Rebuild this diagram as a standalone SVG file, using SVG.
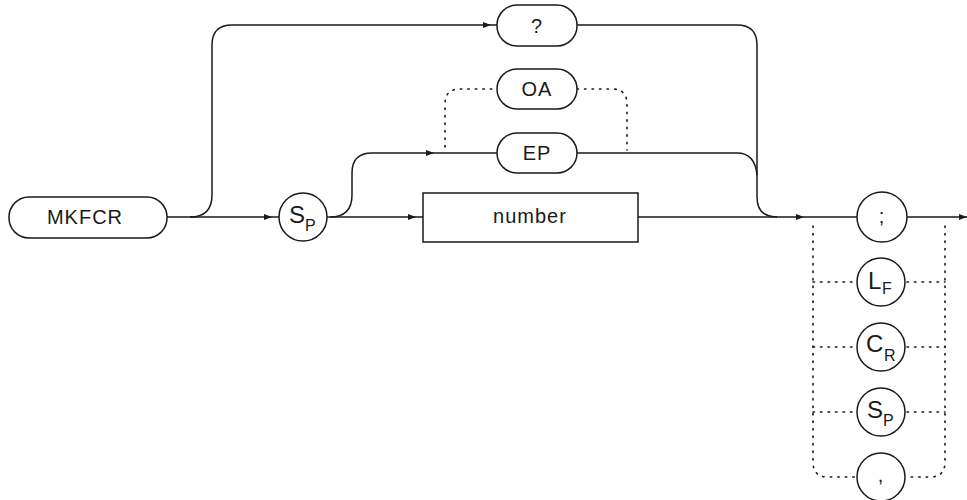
<svg xmlns="http://www.w3.org/2000/svg" width="967" height="500" viewBox="0 0 967 500">
<defs>
<style>
.ln{fill:none;stroke:#1a1a1a;stroke-width:1.5}
.dt{fill:none;stroke:#1a1a1a;stroke-width:1.6;stroke-dasharray:1.5 6;stroke-linecap:round}
.bx{fill:#fff;stroke:#1a1a1a;stroke-width:1.5}
.tx{font-family:"Liberation Sans",Arial,sans-serif;font-size:20px;fill:#1a1a1a;text-anchor:middle;letter-spacing:1px}
.big{font-family:"Liberation Sans",Arial,sans-serif;font-size:24px;fill:#1a1a1a}
.sub{font-family:"Liberation Sans",Arial,sans-serif;font-size:16px;fill:#1a1a1a}
.ar{fill:#1a1a1a}
</style>
<path id="arr" d="M0,0 L-8,-3 L-8,3 Z"/>
</defs>

<g id="connectors">
<path class="ln" d="M167,217 H280"/>
<path class="ln" d="M327,217 H423"/>
<path class="ln" d="M638,217 H857"/>
<path class="ln" d="M907,217 H967"/>
<path class="ln" d="M190,217 Q212,217 212,195 V45 Q212,25 232,25 H497"/>
<path class="ln" d="M577,25 H737 Q757,25 757,45 V197 Q757,217 777,217"/>
<path class="ln" d="M330,217 Q352,217 352,195 V173 Q352,153 372,153 H497"/>
<path class="ln" d="M577,153 H737 Q755,153 757,175"/>
<path class="dt" d="M445,147 V104 Q445,89 460,89 H497"/>
<path class="dt" d="M577,89 H612 Q627,89 627,104 V150"/>
<path class="dt" d="M813,226 V462 Q813,477 828,477 H857"/>
<path class="dt" d="M945,226 V462 Q945,477 930,477 H907"/>
<path class="dt" d="M813,282 H857 M907,282 H945"/>
<path class="dt" d="M813,347 H857 M907,347 H945"/>
<path class="dt" d="M813,412 H857 M907,412 H945"/>
<use href="#arr" class="ar" x="272" y="217"/>
<use href="#arr" class="ar" x="416" y="217"/>
<use href="#arr" class="ar" x="434" y="153"/>
<use href="#arr" class="ar" x="491" y="25"/>
<use href="#arr" class="ar" x="804" y="217"/>
<use href="#arr" class="ar" x="967" y="217"/>
</g>

<g id="mkfcr">
<rect class="bx" x="9" y="197" width="158" height="41" rx="20" ry="20"/>
<text class="tx" x="85" y="224">MKFCR</text>
</g>

<g id="sp1">
<circle class="bx" cx="303" cy="217" r="24"/>
<text class="big" x="289" y="223">S</text>
<text class="sub" x="305" y="231">P</text>
</g>

<g id="query">
<rect class="bx" x="497" y="5" width="80" height="41" rx="20" ry="20"/>
<text class="tx" x="537" y="33">?</text>
</g>

<g id="oa">
<rect class="bx" x="497" y="69" width="80" height="40" rx="20" ry="20"/>
<text class="tx" x="537" y="96">OA</text>
</g>

<g id="ep">
<rect class="bx" x="497" y="133" width="80" height="40" rx="20" ry="20"/>
<text class="tx" x="537" y="160">EP</text>
</g>

<g id="number">
<rect class="bx" x="423" y="193" width="215" height="49"/>
<text class="tx" x="530" y="223">number</text>
</g>

<g id="semicolon">
<circle class="bx" cx="882" cy="217" r="25"/>
<text class="tx" x="882" y="223">;</text>
</g>

<g id="lf">
<circle class="bx" cx="881" cy="282" r="24"/>
<text class="big" x="868" y="289">L</text>
<text class="sub" x="882" y="294">F</text>
</g>

<g id="cr">
<circle class="bx" cx="881" cy="347" r="24"/>
<text class="big" x="866" y="352">C</text>
<text class="sub" x="884" y="361">R</text>
</g>

<g id="sp2">
<circle class="bx" cx="881" cy="412" r="24"/>
<text class="big" x="867" y="418">S</text>
<text class="sub" x="883" y="426">P</text>
</g>

<g id="comma">
<circle class="bx" cx="881" cy="477" r="24"/>
<text class="tx" x="881" y="482">,</text>
</g>
</svg>
